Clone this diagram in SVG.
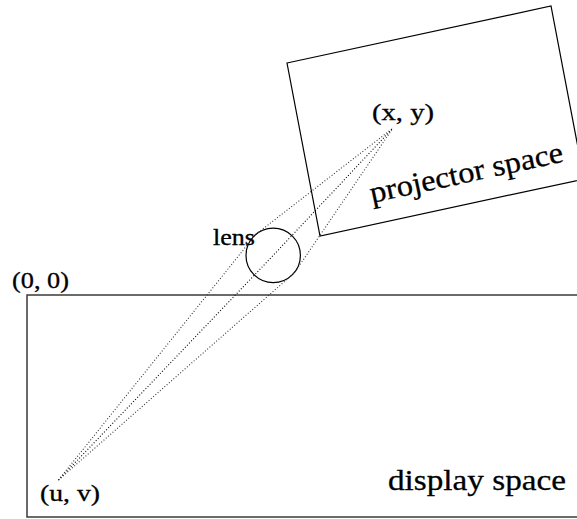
<svg xmlns="http://www.w3.org/2000/svg" width="577" height="519" viewBox="0 0 577 519">
<style>
  .frame { fill: none; stroke: #000; stroke-width: 1.2; }
  .display { fill: none; stroke: #3a3a3a; stroke-width: 1.5; }
  .ray { fill: none; stroke: #333; stroke-width: 1.1; stroke-dasharray: 1 2; }
  .ray-mid { fill: none; stroke: #000; stroke-width: 1.1; stroke-dasharray: 1 2; }
  .lbl { stroke: #000; stroke-width: 0.3; }
</style>
<rect width="577" height="519" fill="#fff"/>
<g font-family="Liberation Serif, Times, serif" fill="#000">
<g id="display-space">
  <rect class="display" x="27" y="295" width="600" height="222"/>
  <text class="lbl" x="388" y="490" font-size="30" textLength="178" lengthAdjust="spacingAndGlyphs">display space</text>
</g>
<g id="projector-space">
  <polygon class="frame" points="287,63 551,6 584,179 320,236"/>
  <text class="lbl" x="372" y="203" font-size="30" textLength="197" lengthAdjust="spacingAndGlyphs" transform="rotate(-12.2 372 203)">projector space</text>
</g>
<g id="lens">
  <circle class="frame" cx="273.2" cy="255.4" r="27.2"/>
  <text class="lbl" x="213" y="245" font-size="23" textLength="42" lengthAdjust="spacingAndGlyphs">lens</text>
</g>
<g id="origin">
  <text class="lbl" x="12" y="288" font-size="24" textLength="57" lengthAdjust="spacingAndGlyphs">(0, 0)</text>
</g>
<g id="point-xy">
  <text class="lbl" x="372" y="120" font-size="24" textLength="62" lengthAdjust="spacingAndGlyphs">(x, y)</text>
</g>
<g id="point-uv">
  <text class="lbl" x="40" y="501" font-size="24" textLength="60" lengthAdjust="spacingAndGlyphs">(u, v)</text>
</g>
</g>
<g id="connectors">
  <polyline class="ray" points="58.5,480 255.7,234.5 393,128"/>
  <polyline class="ray-mid" points="58.5,480 273.2,255.4 393,128"/>
  <polyline class="ray" points="58.5,480 294.5,272.7 393,128"/>
</g>
</svg>
